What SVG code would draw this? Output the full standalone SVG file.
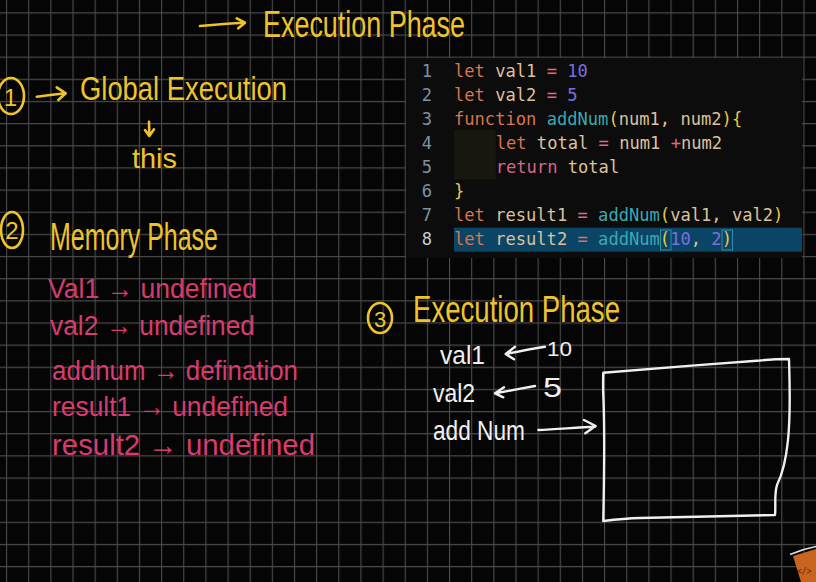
<svg xmlns="http://www.w3.org/2000/svg" width="816" height="582" viewBox="0 0 816 582">
<defs>
<pattern id="grid" x="6" y="12.3" width="22.15" height="22.15" patternUnits="userSpaceOnUse">
<path d="M0.5 0V22.15M0 0.5H22.15" stroke="#4a4a4a" stroke-width="1.2" fill="none"/>
</pattern>
<style>
.hand{font-family:"Liberation Sans","DejaVu Sans",sans-serif;}
.y{fill:#efc42a;}
.p{fill:#d93a70;}
.w{fill:#f0f0f0;}
.ys{stroke:#efc42a;fill:none;stroke-width:2.6;stroke-linecap:round;stroke-linejoin:round;}
.ws{stroke:#f0f0f0;fill:none;stroke-width:2.4;stroke-linecap:round;stroke-linejoin:round;}
.code{font-family:"DejaVu Sans Mono","Liberation Mono",monospace;font-size:17.1px;}
.ln{fill:#7d93a6;text-anchor:middle;}
.kw{fill:#d8744f;}
.id{fill:#dcc29c;}
.op{fill:#dc6a84;}
.num{fill:#7b6ee0;}
.fn{fill:#3aa8b4;}
.br{fill:#e8c64a;}
.rt{fill:#d9668a;}
</style>
</defs>
<rect width="816" height="582" fill="#050505"/>
<rect width="816" height="582" fill="url(#grid)"/>

<g id="title">
<text class="hand y" x="263" y="37" font-size="36" textLength="202" lengthAdjust="spacingAndGlyphs">Execution Phase</text>
</g>

<g id="global-execution">
<ellipse class="ys" cx="11" cy="96" rx="13" ry="18"/>
<text class="hand y" x="10.5" y="106" font-size="24" text-anchor="middle">1</text>
<text class="hand y" x="80" y="100" font-size="34" textLength="207" lengthAdjust="spacingAndGlyphs">Global Execution</text>
</g>

<g id="this">
<text class="hand y" x="132" y="168" font-size="28" textLength="45" lengthAdjust="spacingAndGlyphs">this</text>
</g>

<g id="memory-phase">
<ellipse class="ys" cx="12" cy="230" rx="11" ry="18"/>
<text class="hand y" x="12" y="239" font-size="24" text-anchor="middle">2</text>
<text class="hand y" x="50" y="250" font-size="38" textLength="168" lengthAdjust="spacingAndGlyphs">Memory Phase</text>
</g>

<g id="memory-list">
<text class="hand p" x="48" y="298" font-size="28" textLength="209" lengthAdjust="spacingAndGlyphs">Val1 → undefined</text>
<text class="hand p" x="50" y="335" font-size="28" textLength="205" lengthAdjust="spacingAndGlyphs">val2 → undefined</text>
<text class="hand p" x="52" y="380" font-size="28" textLength="246" lengthAdjust="spacingAndGlyphs">addnum → defination</text>
<text class="hand p" x="52" y="416" font-size="28" textLength="236" lengthAdjust="spacingAndGlyphs">result1 → undefined</text>
<text class="hand p" x="52" y="455" font-size="30" textLength="263" lengthAdjust="spacingAndGlyphs">result2 → undefined</text>
</g>

<g id="code-panel">
<rect x="406" y="58" width="396" height="200" fill="#0c0c0c"/>
<rect x="454" y="227.7" width="348" height="24" fill="#0b4566"/>
<rect x="454.3" y="130" width="41.4" height="49.3" fill="#17170f"/>
<rect x="660.5" y="230" width="10.5" height="20" fill="none" stroke="#2f8fa6" stroke-width="1"/>
<rect x="722" y="230" width="10.5" height="20" fill="none" stroke="#2f8fa6" stroke-width="1"/>
<g class="code">
<text class="ln" x="427" y="76.5">1</text>
<text class="ln" x="427" y="100.6">2</text>
<text class="ln" x="427" y="124.7">3</text>
<text class="ln" x="427" y="148.8">4</text>
<text class="ln" x="427" y="172.9">5</text>
<text class="ln" x="427" y="197">6</text>
<text class="ln" x="427" y="221.1">7</text>
<text class="ln" x="427" y="245.2" style="fill:#c6ced6">8</text>
<text x="454" y="76.5" xml:space="preserve"><tspan class="kw">let</tspan><tspan class="id"> val1 </tspan><tspan class="op">=</tspan> <tspan class="num">10</tspan></text>
<text x="454" y="100.6" xml:space="preserve"><tspan class="kw">let</tspan><tspan class="id"> val2 </tspan><tspan class="op">=</tspan> <tspan class="num">5</tspan></text>
<text x="454" y="124.7" xml:space="preserve"><tspan class="kw">function</tspan> <tspan class="fn">addNum</tspan><tspan class="br">(</tspan><tspan class="id">num1, num2</tspan><tspan class="br">){</tspan></text>
<text x="495.7" y="148.8" xml:space="preserve"><tspan class="kw">let</tspan><tspan class="id"> total </tspan><tspan class="op">=</tspan><tspan class="id"> num1 </tspan><tspan class="op">+</tspan><tspan class="id">num2</tspan></text>
<text x="495.7" y="172.9" xml:space="preserve"><tspan class="rt">return</tspan><tspan class="id"> total</tspan></text>
<text x="454" y="197" class="br">}</text>
<text x="454" y="221.1" xml:space="preserve"><tspan class="kw">let</tspan><tspan class="id"> result1 </tspan><tspan class="op">=</tspan> <tspan class="fn">addNum</tspan><tspan class="br">(</tspan><tspan class="id">val1, val2</tspan><tspan class="br">)</tspan></text>
<text x="454" y="245.2" xml:space="preserve"><tspan class="kw">let</tspan><tspan class="id"> result2 </tspan><tspan class="op">=</tspan> <tspan class="fn">addNum</tspan><tspan class="br">(</tspan><tspan class="num">10</tspan><tspan class="id">, </tspan><tspan class="num">2</tspan><tspan class="br">)</tspan></text>
</g>
</g>

<g id="execution-phase">
<ellipse class="ys" cx="380" cy="318" rx="12" ry="15"/>
<text class="hand y" x="380" y="327" font-size="22" text-anchor="middle">3</text>
<text class="hand y" x="413" y="322" font-size="36" textLength="207" lengthAdjust="spacingAndGlyphs">Execution Phase</text>
</g>

<g id="execution-values">
<text class="hand w" x="440" y="364" font-size="26" textLength="45" lengthAdjust="spacingAndGlyphs">val1</text>
<text class="hand w" x="547" y="356" font-size="20" textLength="25" lengthAdjust="spacingAndGlyphs">10</text>
<text class="hand w" x="433" y="402" font-size="26" textLength="42" lengthAdjust="spacingAndGlyphs">val2</text>
<text class="hand w" x="543" y="397" font-size="28" textLength="19" lengthAdjust="spacingAndGlyphs">5</text>
<text class="hand w" x="433" y="440" font-size="28" textLength="92" lengthAdjust="spacingAndGlyphs">add Num</text>
</g>

<g id="memory-box">
<path class="ws" d="M603.3,372.7 C650,369 710,364 760,360.5 C770,359.5 780,359 789,359 C789.5,380 791,410 788,440 C786,460 782,475 777,485 C774,495 776,505 775,515 C740,516 690,517 640,518 C625,518.5 612,520 603.3,521 C604,480 605,440 603.5,400 C603,390 603,380 603.3,372.7 Z"/>
</g>

<g id="connectors">
<path class="ys" d="M200,26 C215,24.5 230,23.3 245,22.7 M236.7,18.3 L245,22.7 L238.3,28.3"/>
<path class="ys" d="M36.7,96.7 C46,95.5 56,94.3 65,93.3 M56.7,87.3 L65.7,93.3 L58.3,100"/>
<path class="ys" d="M149,121.7 L149.3,135.5 M145,130 L149.3,136 L154,129.3"/>
<path class="ws" d="M545,346.7 C530,349 518,351.5 506,354 M515,346.7 L505.7,354 L514,359.3"/>
<path class="ws" d="M535,386 C522,388.5 508,391 495.5,393.3 M504,387.3 L495,393.3 L503.3,397.3"/>
<path class="ws" d="M538.3,430 C558,429 578,427.5 595,426.7 M584,420 L595.7,426 L585.3,433.3"/>
</g>

<g id="logo">
<polygon points="793,556 816,549 816,582 801,582" fill="#c8641e"/>
<path d="M790,554.5 C798,551 808,548 816,546.5" stroke="#e0e0e0" stroke-width="1.5" fill="none"/>
<text x="797" y="574" font-family="DejaVu Sans Mono,monospace" font-size="8" fill="#5a2a08">&lt;/&gt;</text>
</g>
</svg>
